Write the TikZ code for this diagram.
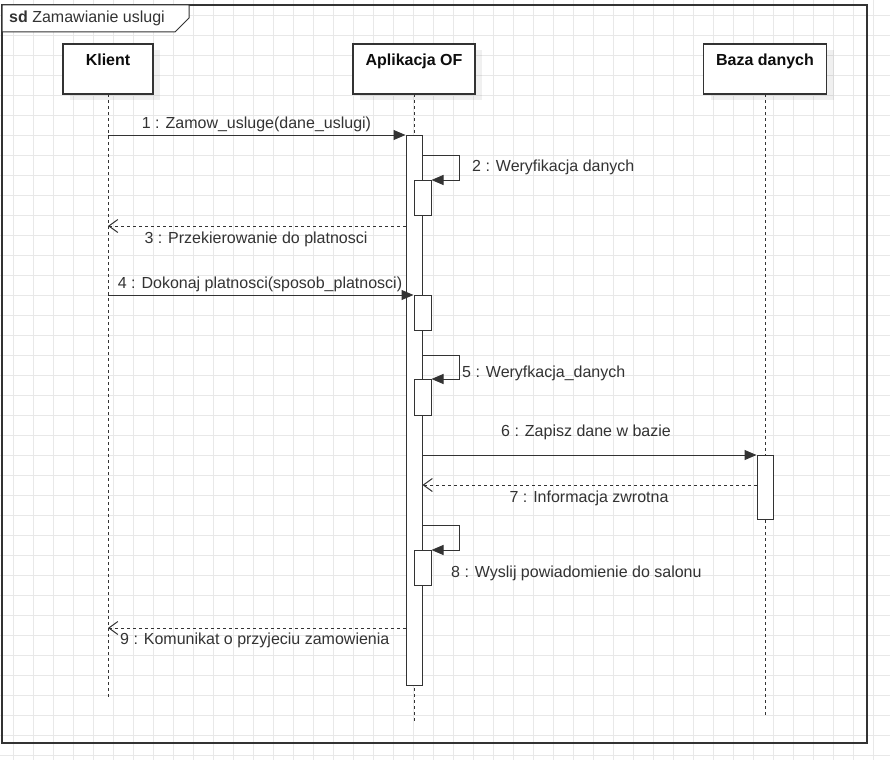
\documentclass[tikz,border=0pt]{standalone}
\usepackage{fontspec}
\setmainfont{Liberation Sans}
\usetikzlibrary{arrows.meta, positioning, shadows, calc}
\definecolor{mainBlack}{gray}{0.05}
\definecolor{lineGray}{gray}{0.2}
\definecolor{textGray}{gray}{0.2}
\definecolor{gridGray}{gray}{0.91}

\begin{document}
\begin{tikzpicture}[x=1pt, y=-1pt,
    every node/.style={font=\fontsize{16}{19}\selectfont, text=textGray, inner sep=0pt},
    head/.style={draw=lineGray, fill=white, line width=1.3pt, minimum height=50pt,
        drop shadow={shadow xshift=7pt, shadow yshift=-6pt, fill=black, opacity=0.06}},
    title/.style={font=\fontsize{16}{19}\selectfont\bfseries, text=mainBlack, anchor=base},
    act/.style={draw=lineGray, fill=white, line width=1pt, minimum width=16pt, anchor=north},
    life/.style={lineGray, line width=1pt, dash pattern=on 3pt off 3pt},
    call/.style={-{Triangle[length=12pt, width=10pt]}, lineGray, line width=1pt},
    reply/.style={-{Straight Barb[length=9pt, width=13pt, line width=1pt]}, lineGray, line width=1pt, dash pattern=on 3pt off 3pt},
    msg/.style={anchor=base}]
    \useasboundingbox (0,0) rectangle (890,760);
    \fill[white] (0,0) rectangle (890,760);
    \foreach \gx in {13.3,33.3,...,890} \draw[gridGray] (\gx,0) -- (\gx,760);
    \foreach \gy in {15,35,...,760} \draw[gridGray] (0,\gy) -- (890,\gy);

    % ramka sd
    \coordinate (fNW) at (2,5);
    \coordinate (fSE) at (867,743);
    \draw[lineGray, line width=1.4pt] (fNW) rectangle (fSE);
    \draw[lineGray, line width=1pt, fill=white] (fNW) -- (189,5) -- (189,18) -- (175,32) -- (2,32) -- cycle;
    \node[anchor=base west] (sdT) at (9,23) {\textbf{sd} Zamawianie uslugi};

    % uczestnicy
    \coordinate (klientEnd) at (108,698);
    \coordinate (appEnd) at (414,722);
    \coordinate (bazaEnd) at (765,715);
    \draw[life] (108,94) -- (klientEnd);
    \draw[life] (414,94) -- (appEnd);
    \draw[life] (765,94) -- (bazaEnd);
    \node[head, minimum width=90pt] (klient) at (108,69) {};
    \node[head, minimum width=122pt] (app) at (414,69) {};
    \node[head, minimum width=123pt] (baza) at (765,69) {};
    \node[title] (klientT) at (108,66) {Klient};
    \node[title] (appT) at (414,66) {Aplikacja OF};
    \node[title] (bazaT) at (765,66) {Baza danych};

    % aktywacje
    \node[act, minimum height=550pt] (act1) at (414,135) {};
    \node[act, minimum width=17pt, minimum height=35pt] (act2) at (422.5,180) {};
    \node[act, minimum width=17pt, minimum height=35pt] (act3) at (422.5,295) {};
    \node[act, minimum width=17pt, minimum height=36pt] (act4) at (422.5,379) {};
    \node[act, minimum height=64pt] (act5) at (765,455) {};
    \node[act, minimum width=17pt, minimum height=35pt] (act6) at (422.5,550) {};

    \coordinate (y2) at (0,155);
    \coordinate (y3) at (0,226);
    \coordinate (y5) at (0,355);
    \coordinate (y7) at (0,485);
    \coordinate (y8) at (0,525);
    \coordinate (y9) at (0,628);

    % komunikaty
    \draw[call] (klient |- act1.north) -- (act1.north west);
    \draw[call] (act1.east |- y2) -- ++(37,0) |- (act2.north east);
    \draw[reply] (act1.west |- y3) -- (klient |- y3);
    \draw[call] (klient |- act3.north) -- (act3.north west);
    \draw[call] (act1.east |- y5) -- ++(37,0) |- (act4.north east);
    \draw[call] (act1.east |- act5.north) -- (act5.north west);
    \draw[reply] (act5.west |- y7) -- (act1.east |- y7);
    \draw[call] (act1.east |- y8) -- ++(37,0) |- (act6.north east);
    \draw[reply] (act1.west |- y9) -- (klient |- y9);

    \node[msg] (m1) at (256.5,128) {1 : Zamow\_usluge(dane\_uslugi)};
    \node[msg, anchor=base west] (m2) at (472,171) {2 : Weryfikacja danych};
    \node[msg] (m3) at (256,243) {3 : Przekierowanie do platnosci};
    \node[msg] (m4) at (260,288) {4 : Dokonaj platnosci(sposob\_platnosci)};
    \node[msg, anchor=base west] (m5) at (462,377) {5 : Weryfkacja\_danych};
    \node[msg] (m6) at (586,436) {6 : Zapisz dane w bazie};
    \node[msg] (m7) at (589,502) {7 : Informacja zwrotna};
    \node[msg, anchor=base west] (m8) at (451,577) {8 : Wyslij powiadomienie do salonu};
    \node[msg, anchor=base west] (m9) at (120,644) {9 : Komunikat o przyjeciu zamowienia};
\end{tikzpicture}
\end{document}
